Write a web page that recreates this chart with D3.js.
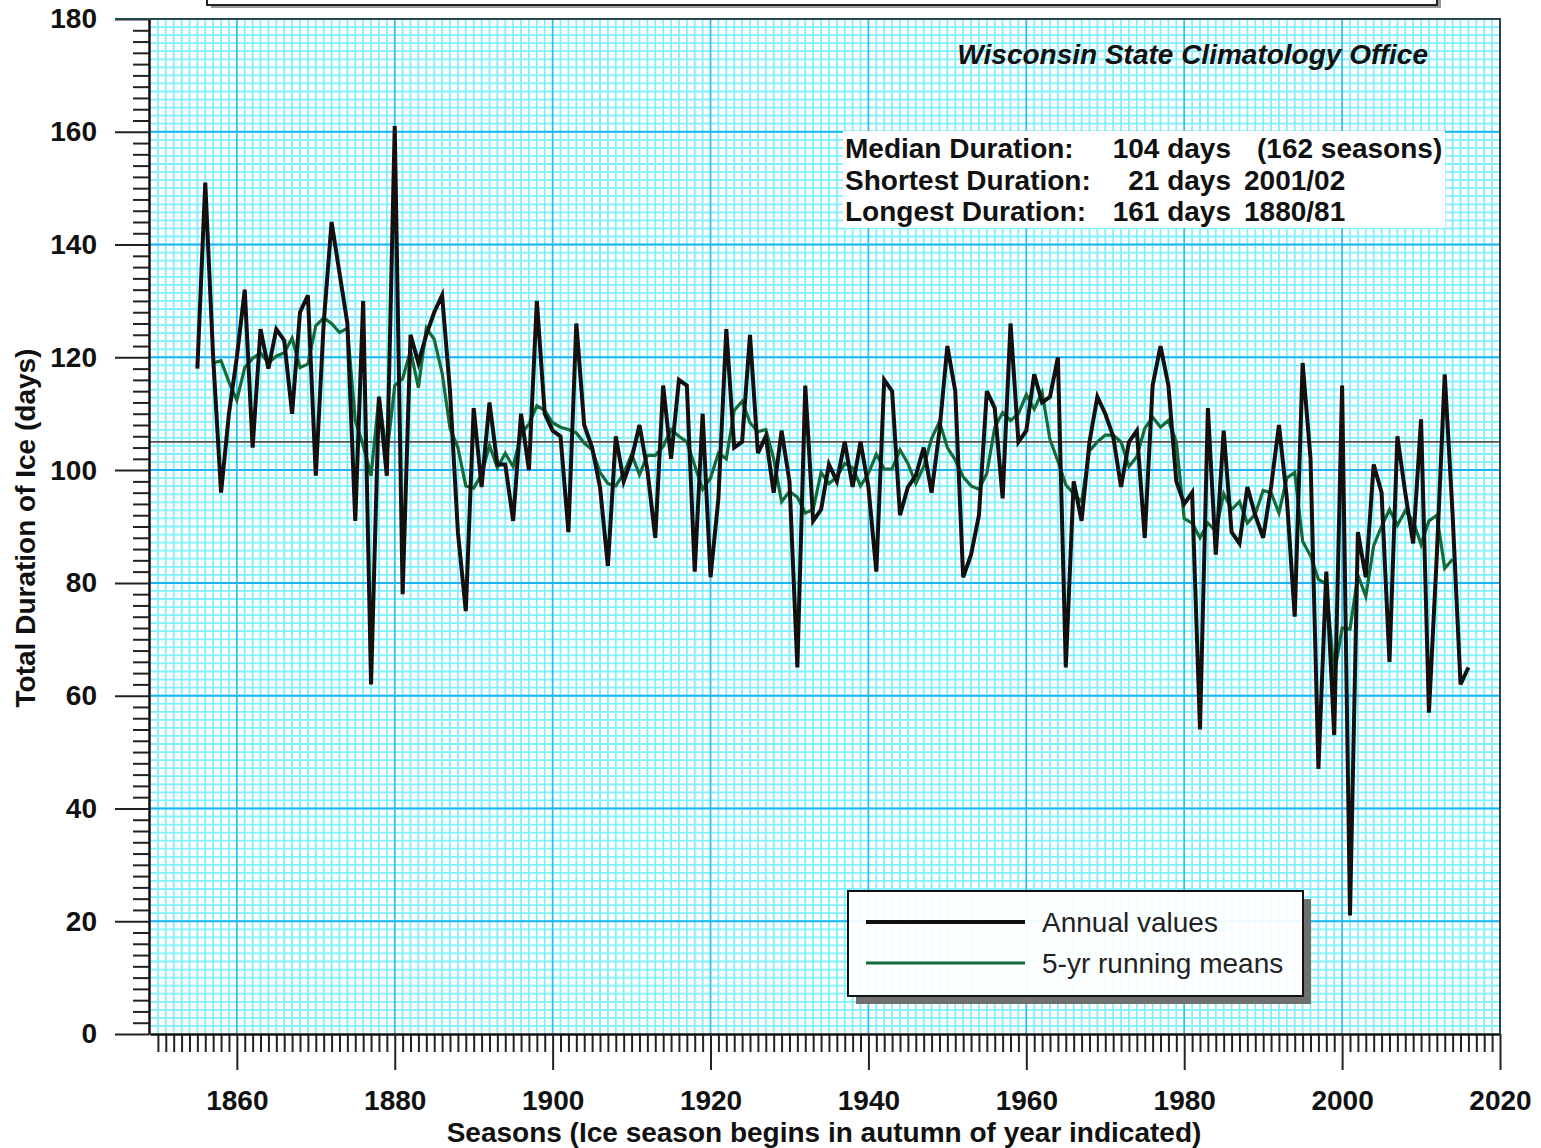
<!DOCTYPE html>
<html>
<head>
<meta charset="utf-8">
<script src="https://cdn.jsdelivr.net/npm/d3@7"></script>
<style>
  body { margin: 0; background: #fff; }
  svg { display: block; font-family: "Liberation Sans", Arial, sans-serif; }
</style>
</head>
<body>
<div id="chart"></div>
<script>
// Lake ice duration, one value per season (season begins in autumn of the year)
const firstSeason = 1855;
const iceDays = [
  118, 151, 120, 96, 110, 120, 132, 104, 125, 118,   // 1855-1864
  125, 123, 110, 128, 131, 99, 126, 144, 135, 126,   // 1865-1874
  91, 130, 62, 113, 99, 161, 78, 124, 119, 124,      // 1875-1884
  128, 131, 114, 89, 75, 111, 97, 112, 101, 101,     // 1885-1894
  91, 110, 100, 130, 110, 107, 106, 89, 126, 108,    // 1895-1904
  104, 97, 83, 106, 98, 102, 108, 100, 88, 115,      // 1905-1914
  102, 116, 115, 82, 110, 81, 95, 125, 104, 105,     // 1915-1924
  124, 103, 106, 96, 107, 98, 65, 115, 91, 93,       // 1925-1934
  101, 98, 105, 97, 105, 97, 82, 116, 114, 92,       // 1935-1944
  97, 99, 104, 96, 107, 122, 114, 81, 85, 92,        // 1945-1954
  114, 111, 95, 126, 105, 107, 117, 112, 113, 120,   // 1955-1964
  65, 98, 91, 105, 113, 110, 106, 97, 105, 107,      // 1965-1974
  88, 115, 122, 115, 98, 94, 96, 54, 111, 85,        // 1975-1984
  107, 89, 87, 97, 92, 88, 97, 108, 95, 74,          // 1985-1994
  119, 102, 47, 82, 53, 115, 21, 89, 81, 101,        // 1995-2004
  96, 66, 106, 96, 87, 109, 57, 85, 117, 92,         // 2005-2014
  62, 65                                             // 2015-2016
];
const seasons = iceDays.map((d, i) => firstSeason + i);

// 5-yr running means, centred on each season
const runningMeans = iceDays.map((d, i) =>
  (i < 2 || i > iceDays.length - 3) ? null : d3.mean(iceDays.slice(i - 2, i + 3)));

const yearTicks = [1860, 1880, 1900, 1920, 1940, 1960, 1980, 2000, 2020];
const dayTicks = [0, 20, 40, 60, 80, 100, 120, 140, 160, 180];
const referenceLine = 105;

const statsRows = [
  ["Median Duration:", "104 days", "(162 seasons)"],
  ["Shortest Duration:", "21 days", "2001/02"],
  ["Longest Duration:", "161 days", "1880/81"]
];
const legendLabels = ["Annual values", "5-yr running means"];
const creditText = "Wisconsin State Climatology Office";
const xTitle = "Seasons (Ice season begins in autumn of year indicated)";
const yTitle = "Total Duration of Ice (days)";


class IceChart {

  constructor(element) {
    this.element = element;
    this.width = 1541;
    this.height = 1148;
    this.plot = {left: 150, right: 1500, top: 19, bottom: 1034};
    this.annualColor = "#111111";
    this.meanColor = "#146b3a";
    this.draw();
  }

  draw() {
    this.svg = d3.select(this.element)
      .append("svg")
      .attr("width", this.width)
      .attr("height", this.height);

    this._createScales();
    this._drawTitleBox();
    this._drawGrid();
    this._drawAxes();
    this._drawNotes();
    this._drawSeries();
    this._drawLegend();
  }

  _createScales() {
    this.x = d3.scaleLinear()
      .domain([1849, 2020])
      .range([this.plot.left, this.plot.right]);

    this.y = d3.scaleLinear()
      .domain([0, 180])
      .range([this.plot.bottom, this.plot.top]);
  }

  _drawTitleBox() {
    // only the bottom of the title box is inside the picture
    const g = this.svg.append("g");
    g.append("rect")
      .attr("x", 211).attr("y", -30)
      .attr("width", 1230).attr("height", 38)
      .attr("fill", "#9a9a9a");
    g.append("rect")
      .attr("x", 207).attr("y", -30)
      .attr("width", 1230).attr("height", 35)
      .attr("fill", "#fff")
      .attr("stroke", "#222")
      .attr("stroke-width", 2);
  }

  _drawGrid() {
    const p = this.plot;
    const g = this.svg.append("g");
    // fine graph-paper rows, 14 per 20 days so the cells come out square
    const fineRows = d3.range(1, 126).map(i => i * 20 / 14);

    g.append("rect")
      .attr("x", p.left).attr("y", p.top)
      .attr("width", p.right - p.left).attr("height", p.bottom - p.top)
      .attr("fill", "#ffffff");

    g.append("g")
      .selectAll("line")
      .data(d3.range(1850, 2020))
      .join("line")
        .attr("x1", d => this.x(d)).attr("x2", d => this.x(d))
        .attr("y1", p.top).attr("y2", p.bottom)
        .attr("stroke", "#80f0ff")
        .attr("stroke-width", 1.8);

    g.append("g")
      .selectAll("line")
      .data(fineRows)
      .join("line")
        .attr("x1", p.left).attr("x2", p.right)
        .attr("y1", d => this.y(d)).attr("y2", d => this.y(d))
        .attr("stroke", "#80f0ff")
        .attr("stroke-width", 1.8);

    g.append("g")
      .selectAll("line")
      .data(yearTicks.slice(0, -1))
      .join("line")
        .attr("x1", d => this.x(d)).attr("x2", d => this.x(d))
        .attr("y1", p.top).attr("y2", p.bottom)
        .attr("stroke", "#33bbee")
        .attr("stroke-width", 1.5);

    g.append("g")
      .selectAll("line")
      .data(dayTicks.slice(1, -1))
      .join("line")
        .attr("x1", p.left).attr("x2", p.right)
        .attr("y1", d => this.y(d)).attr("y2", d => this.y(d))
        .attr("stroke", "#1db4f4")
        .attr("stroke-width", 2);

    g.append("line")
      .attr("x1", p.left).attr("x2", p.right)
      .attr("y1", this.y(referenceLine)).attr("y2", this.y(referenceLine))
      .attr("stroke", "#555")
      .attr("stroke-width", 1.6);
  }

  _drawAxes() {
    const p = this.plot;
    const minorDays = d3.range(0, 181, 2).filter(d => d % 20 !== 0);
    const minorYears = d3.range(1850, 2021).filter(d => d % 20 !== 0);

    const styleAxis = g => {
      g.select(".domain").attr("stroke", "#111").attr("stroke-width", 2);
      g.selectAll(".tick line").attr("stroke", "#222").attr("stroke-width", 2);
      g.selectAll(".tick text")
        .attr("fill", "#111")
        .attr("font-size", 28)
        .attr("font-weight", "bold");
    };

    this.svg.append("g")
      .attr("transform", `translate(${p.left - 1},0)`)
      .call(d3.axisLeft(this.y).tickValues(minorDays).tickSize(16).tickSizeOuter(0).tickFormat(""))
      .call(styleAxis);

    this.svg.append("g")
      .attr("transform", `translate(${p.left - 1},0)`)
      .call(d3.axisLeft(this.y).tickValues(dayTicks).tickSize(34).tickSizeOuter(0).tickPadding(18))
      .call(styleAxis);

    this.svg.append("g")
      .attr("transform", `translate(0,${p.bottom})`)
      .call(d3.axisBottom(this.x).tickValues(minorYears).tickSize(18).tickSizeOuter(0).tickFormat(""))
      .call(styleAxis);

    this.svg.append("g")
      .attr("transform", `translate(0,${p.bottom})`)
      .call(d3.axisBottom(this.x).tickValues(yearTicks).tickSize(36).tickSizeOuter(0)
        .tickPadding(20).tickFormat(d3.format("d")))
      .call(styleAxis);

    // frame: top edge and right edge
    this.svg.append("path")
      .attr("d", `M${p.left - 35},${p.top}H${p.right}V${p.bottom}`)
      .attr("fill", "none")
      .attr("stroke", "#24484c")
      .attr("stroke-width", 2);

    this.svg.append("text")
      .attr("x", 824)
      .attr("y", 1142)
      .attr("text-anchor", "middle")
      .attr("font-size", 28)
      .attr("font-weight", "bold")
      .attr("fill", "#111")
      .text(xTitle);

    this.svg.append("text")
      .attr("transform", "translate(35,528) rotate(-90)")
      .attr("text-anchor", "middle")
      .attr("font-size", 28)
      .attr("font-weight", "bold")
      .attr("fill", "#111")
      .text(yTitle);
  }

  _drawNotes() {
    this.svg.append("text")
      .attr("x", 1428)
      .attr("y", 64)
      .attr("text-anchor", "end")
      .attr("font-size", 28)
      .attr("font-weight", "bold")
      .attr("font-style", "italic")
      .attr("fill", "#111")
      .text(creditText);

    this.svg.append("rect")
      .attr("x", 843).attr("y", 131)
      .attr("width", 602).attr("height", 97)
      .attr("fill", "#fff");

    const rows = this.svg.append("g")
      .selectAll("g")
      .data(statsRows)
      .join("g")
        .attr("transform", (d, i) => `translate(0,${158 + i * 31.5})`)
        .attr("font-size", 28)
        .attr("font-weight", "bold")
        .attr("fill", "#111");

    rows.append("text").attr("x", 845).text(d => d[0]);
    rows.append("text").attr("x", 1231).attr("text-anchor", "end").text(d => d[1]);
    rows.append("text").attr("x", (d, i) => i === 0 ? 1257 : 1244).text(d => d[2]);
  }

  _drawSeries() {
    const line = d3.line()
      .defined(d => d[1] != null)
      .x(d => this.x(d[0]))
      .y(d => this.y(d[1]));

    this.svg.append("path")
      .datum(d3.zip(seasons, runningMeans))
      .attr("fill", "none")
      .attr("stroke", this.meanColor)
      .attr("stroke-width", 3.2)
      .attr("d", line);

    this.svg.append("path")
      .datum(d3.zip(seasons, iceDays))
      .attr("fill", "none")
      .attr("stroke", this.annualColor)
      .attr("stroke-width", 4)
      .attr("d", line);
  }

  _drawLegend() {
    const g = this.svg.append("g").attr("transform", "translate(848,891)");
    const w = 455, h = 105;

    // drop shadow along the right and bottom edges only
    g.append("path")
      .attr("d", `M${w},8H${w + 8}V${h + 8}H8V${h}H${w}Z`)
      .attr("fill", "#707070");

    g.append("rect")
      .attr("width", w).attr("height", h)
      .attr("fill", "#fff")
      .attr("fill-opacity", 0.92)
      .attr("stroke", "#111")
      .attr("stroke-width", 2);

    const colors = [this.annualColor, this.meanColor];
    const items = g.selectAll("g.item")
      .data(legendLabels)
      .join("g")
        .attr("class", "item")
        .attr("transform", (d, i) => `translate(0,${31 + i * 41})`);

    items.append("line")
      .attr("x1", 18).attr("x2", 177)
      .attr("stroke", (d, i) => colors[i])
      .attr("stroke-width", (d, i) => i === 0 ? 4 : 3.2);

    items.append("text")
      .attr("x", 194)
      .attr("y", 10)
      .attr("font-size", 28)
      .attr("fill", "#222")
      .text(d => d);
  }

}

new IceChart(document.getElementById("chart"));
</script>
</body>
</html>
